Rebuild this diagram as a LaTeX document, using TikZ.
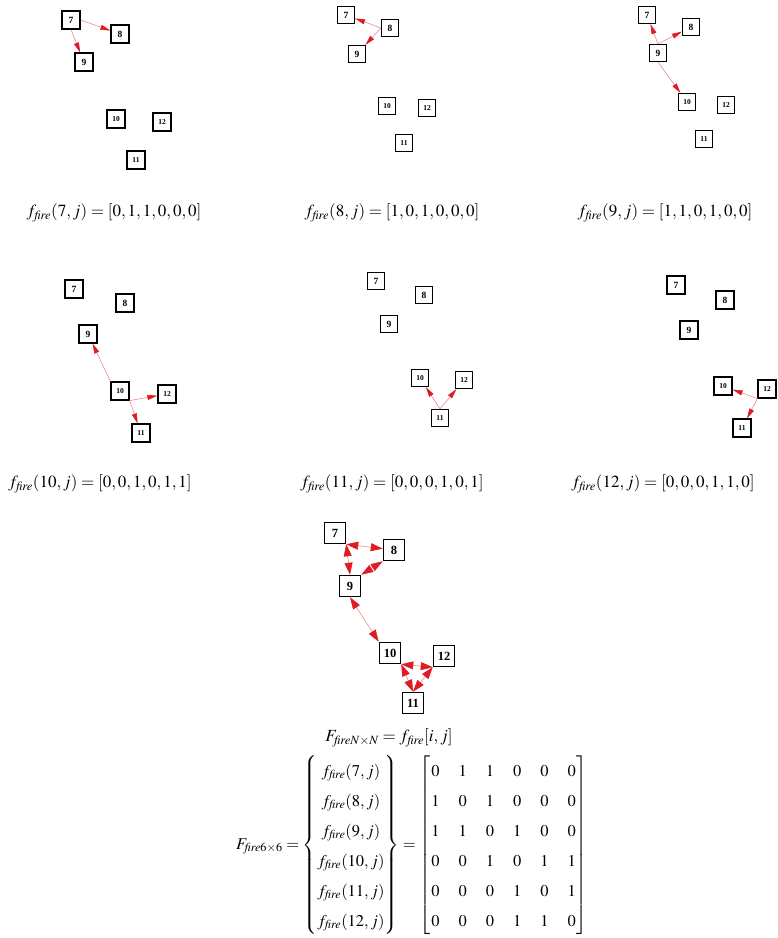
\documentclass[tikz,border=0pt]{standalone}
\usepackage{mathptmx}
\usepackage[no-math]{fontspec}
\setmainfont{Liberation Serif}
\usetikzlibrary{arrows.meta}
\definecolor{linepink}{RGB}{236,140,145}
\definecolor{arrred}{RGB}{222,28,36}
\tikzset{
 sbox/.style={draw=black, line width=1.2pt, minimum size=18pt, inner sep=0pt, font=\fontsize{9.5}{10}\selectfont\bfseries},
 sboxw/.style={sbox, font=\fontsize{7.5}{9}\selectfont\bfseries},
 tbox/.style={sbox, minimum size=17pt},
 tboxw/.style={sboxw, minimum size=17pt},
 bbox/.style={draw=black, line width=1.5pt, minimum size=21pt, inner sep=0pt, font=\fontsize{12.5}{14}\selectfont\bfseries},
 edge/.style={draw=linepink, line width=0.6pt, -{Triangle[length=10pt,width=5pt,color=arrred]}},
 bedge/.style={draw=linepink, line width=0.6pt, {Triangle[length=12pt,width=8pt,color=arrred]}-{Triangle[length=12pt,width=8pt,color=arrred]}},
 formula/.style={font=\fontsize{17}{20}\selectfont, inner sep=0pt},
 bigformula/.style={font=\fontsize{16.5}{20}\selectfont, inner sep=0pt}
}
\begin{document}
\begin{tikzpicture}[x=1pt,y=-1pt]
\useasboundingbox (0,0) rectangle (778,938);
% panel 1
\node[sbox]  (p1n7)  at (71,20) {7};
\node[sbox]  (p1n8)  at (120,34) {8};
\node[sbox]  (p1n9)  at (84,62) {9};
\node[sboxw] (p1n10) at (116,119) {10};
\node[sboxw] (p1n12) at (162,122) {12};
\node[sboxw] (p1n11) at (136,160) {11};
\draw[edge] (p1n7.east) -- (p1n8);
\draw[edge] (p1n7.south) -- (p1n9);
\node[formula] (f1) at (114,213) {$f_{\mathit{fire}}(7, j) = [0,1,1,0,0,0]$};
% panel 2
\node[tbox]  (p2n7)  at (346,15) {7};
\node[tbox]  (p2n8)  at (390,28) {8};
\node[tbox]  (p2n9)  at (357,54) {9};
\node[tboxw] (p2n10) at (387,106) {10};
\node[tboxw] (p2n12) at (427,108) {12};
\node[tboxw] (p2n11) at (404,143) {11};
\draw[edge] (p2n8.west) -- (p2n7);
\draw[edge] (p2n8.west) -- (p2n9);
\node[formula] (f2) at (392,213) {$f_{\mathit{fire}}(8, j) = [1,0,1,0,0,0]$};
% panel 3
\node[tbox]  (p3n7)  at (647,15) {7};
\node[tbox]  (p3n8)  at (691,27) {8};
\node[tbox]  (p3n9)  at (658,53) {9};
\node[tboxw] (p3n10) at (687,102) {10};
\node[tboxw] (p3n12) at (726,105) {12};
\node[tboxw] (p3n11) at (704,139) {11};
\draw[edge] (p3n9.north) -- (p3n7);
\draw[edge] (p3n9.north) -- (p3n8);
\draw[edge] (p3n9.south) -- (p3n10);
\node[formula] (f3) at (665,213) {$f_{\mathit{fire}}(9, j) = [1,1,0,1,0,0]$};
% panel 4
\node[sbox]  (p4n7)  at (74,289) {7};
\node[sbox]  (p4n8)  at (125,303) {8};
\node[sbox]  (p4n9)  at (88,334) {9};
\node[sboxw] (p4n10) at (120,391) {10};
\node[sboxw] (p4n12) at (167,394) {12};
\node[sboxw] (p4n11) at (141,433) {11};
\draw[edge] (p4n10.north west) -- (p4n9);
\draw[edge] (p4n10.south east) -- (p4n12);
\draw[edge] (p4n10.south east) -- (p4n11);
\node[formula] (f4) at (100,484) {$f_{\mathit{fire}}(10, j) = [0,0,1,0,1,1]$};
% panel 5
\node[tbox]  (p5n7)  at (376,281) {7};
\node[tbox]  (p5n8)  at (424,295) {8};
\node[tbox]  (p5n9)  at (389,324) {9};
\node[tboxw] (p5n10) at (420,378) {10};
\node[tboxw] (p5n12) at (464,380) {12};
\node[tboxw] (p5n11) at (440,418) {11};
\draw[edge] (p5n11.north) -- (p5n10);
\draw[edge] (p5n11.north) -- (p5n12);
\node[formula] (f5) at (392,484) {$f_{\mathit{fire}}(11, j) = [0,0,0,1,0,1]$};
% panel 6
\node[sbox]  (p6n7)  at (676,285) {7};
\node[sbox]  (p6n8)  at (725,300) {8};
\node[sbox]  (p6n9)  at (689,330) {9};
\node[sboxw] (p6n10) at (723,386) {10};
\node[sboxw] (p6n12) at (767,389) {12};
\node[sboxw] (p6n11) at (742,428) {11};
\draw[edge] (p6n12.south west) -- (p6n10);
\draw[edge] (p6n12.south west) -- (p6n11);
\node[formula] (f6) at (663,484) {$f_{\mathit{fire}}(12, j) = [0,0,0,1,1,0]$};
% combined graph
\node[bbox] (b7)  at (335,533) {7};
\node[bbox] (b8)  at (394,550) {8};
\node[bbox] (b9)  at (350,586) {9};
\node[bbox] (b10) at (390,653) {10};
\node[bbox] (b12) at (444,656) {12};
\node[bbox] (b11) at (413,703) {11};
\draw[bedge] (b7.south east) -- (b8);
\draw[bedge] (b7.south east) -- (b9.north);
\draw[bedge] (b8.south west) -- (b9.north east);
\draw[bedge] (b9.south) -- (b10.north west);
\draw[bedge] (b10.south east) -- (b12.south west);
\draw[bedge] (b10.south east) -- (b11.north);
\draw[bedge] (b12.south west) -- (b11.north);
% equations
\node[formula] (eqN) at (389,738) {$F_{\mathit{fire}N\times N} = f_{\mathit{fire}}[i, j]$};
\node[bigformula] (eqM) at (412,845) {\renewcommand\arraystretch{1.5}$F_{\mathit{fire}6\times 6} = \left\{\begin{array}{@{}c@{}}
f_{\mathit{fire}}(7, j)\\
f_{\mathit{fire}}(8, j)\\
f_{\mathit{fire}}(9, j)\\
f_{\mathit{fire}}(10, j)\\
f_{\mathit{fire}}(11, j)\\
f_{\mathit{fire}}(12, j)
\end{array}\right\} = \left[\begin{array}{@{\hspace{1pt}}c@{\hspace{19pt}}c@{\hspace{19pt}}c@{\hspace{19pt}}c@{\hspace{19pt}}c@{\hspace{19pt}}c@{\hspace{1pt}}}
0&1&1&0&0&0\\
1&0&1&0&0&0\\
1&1&0&1&0&0\\
0&0&1&0&1&1\\
0&0&0&1&0&1\\
0&0&0&1&1&0
\end{array}\right]$};
\end{tikzpicture}
\end{document}
